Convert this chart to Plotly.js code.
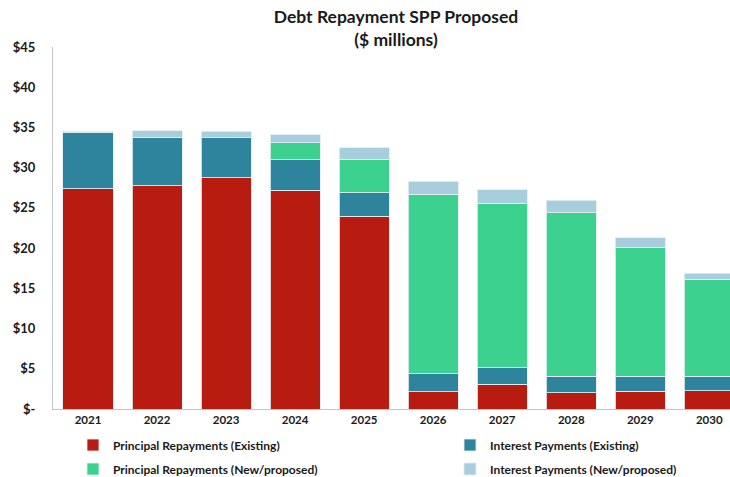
<!DOCTYPE html>
<html>
<head>
<meta charset="utf-8">
<script src="https://cdn.plot.ly/plotly-3.0.1.min.js"></script>
<style>html,body{margin:0;padding:0;background:#fff;}#chart{width:730px;height:477px;}</style>
</head>
<body>
<div id="chart"></div>
<script>
var years = ['2021','2022','2023','2024','2025','2026','2027','2028','2029','2030'];
var principalExisting = [27.35, 27.75, 28.75, 27.2, 23.95, 2.15, 3.05, 2.0, 2.2, 2.3];
var interestExisting  = [7.05, 6.05, 5.0, 3.8, 2.95, 2.25, 2.15, 2.1, 1.9, 1.8];
var principalNew      = [0, 0, 0, 2.1, 4.15, 22.3, 20.4, 20.3, 16.0, 12.0];
var interestNew       = [0.1, 0.8, 0.75, 1.0, 1.45, 1.6, 1.65, 1.55, 1.2, 0.8];
var yTickVals = [0, 5, 10, 15, 20, 25, 30, 35, 40, 45];
var yTickText = ['$-', '$5', '$10', '$15', '$20', '$25', '$30', '$35', '$40', '$45'];
var seriesNames = ['Principal Repayments (Existing)', 'Interest Payments (Existing)',
                   'Principal Repayments (New/proposed)', 'Interest Payments (New/proposed)'];

var FONT = 'Lato, "Open Sans", sans-serif';
var edge = {color: 'rgba(225,238,243,0.85)', width: 1};
function bar(y, name, color, legend) {
  return {type: 'bar', x: years, y: y, name: name, legend: legend,
          marker: {color: color, line: edge}, hoverinfo: 'x+y+name'};
}
var data = [
  bar(principalExisting, seriesNames[0], '#B81C10', 'legend'),
  bar(interestExisting, seriesNames[1], '#2E849C', 'legend2'),
  bar(principalNew, seriesNames[2], '#3DD18F', 'legend3'),
  bar(interestNew, seriesNames[3], '#A8CDDD', 'legend4')
];
function leg(xpx, ypx) {
  return {xref: 'container', yref: 'container', x: xpx / 730, y: 1 - ypx / 477,
          xanchor: 'left', yanchor: 'middle', bgcolor: 'rgba(0,0,0,0)',
          font: {family: FONT, size: 12, color: '#1a1a1a', weight: 700}};
}
var layout = {
  width: 730, height: 477,
  margin: {l: 53, r: 0, t: 47, b: 68, autoexpand: false},
  paper_bgcolor: '#fff', plot_bgcolor: '#fff',
  barmode: 'stack', bargap: 0.275,
  title: {text: 'Debt Repayment SPP Proposed<br>($ millions)', xref: 'container', yref: 'container',
          x: 396 / 730, xanchor: 'center', y: 1 - 23 / 477, yanchor: 'middle', automargin: false,
          font: {family: FONT, size: 17.5, color: '#1a1a1a', weight: 700}},
  xaxis: {type: 'category', range: [-0.507, 9.30], showline: true, linecolor: '#c4c4c4', linewidth: 1,
          showgrid: false, zeroline: false, ticks: '', fixedrange: true, tickangle: 0, automargin: false,
          tickfont: {family: FONT, size: 11.5, color: '#1a1a1a', weight: 700}},
  yaxis: {range: [0, 45], tickvals: yTickVals, ticktext: yTickText, showline: true, linecolor: '#c4c4c4',
          linewidth: 1, showgrid: false, zeroline: false, ticks: '', ticklabelstandoff: 14, automargin: false,
          tickfont: {family: FONT, size: 13, color: '#1a1a1a', weight: 700}},
  showlegend: true,
  legend: leg(73, 445),
  legend2: leg(450, 445),
  legend3: leg(73, 469),
  legend4: leg(450, 469)
};
Plotly.newPlot('chart', data, layout, {displayModeBar: false, staticPlot: true});
</script>
</body>
</html>
